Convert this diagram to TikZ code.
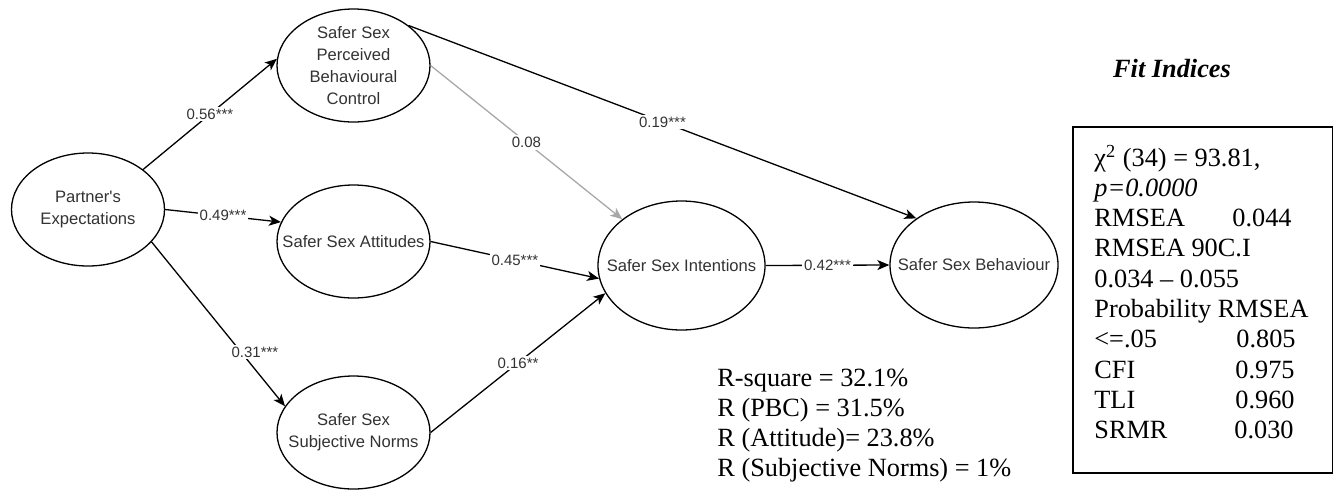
\documentclass[tikz,border=0pt]{standalone}
\usepackage{fontspec}
\setmainfont{Liberation Serif}
\setsansfont{Liberation Sans}
\usetikzlibrary{shapes.geometric,arrows.meta}
\definecolor{txt}{HTML}{333333}
\definecolor{lightedge}{HTML}{A8A8A8}
\tikzset{
  ell/.style={draw=black, line width=0.65pt, ellipse, inner sep=0pt, fill=white},
  small/.style={ell, minimum width=76.5pt, minimum height=56.5pt},
  big/.style={ell, minimum width=83.5pt, minimum height=64.5pt},
  ntext/.style={text=txt, font=\sffamily\fontsize{8.3}{11}\selectfont, align=center, inner sep=0pt},
  path/.style={line width=0.65pt, -{Stealth[length=6pt, width=5pt, inset=1.6pt]}},
  elab/.style={text=txt, font=\sffamily\fontsize{7.5}{9}\selectfont, fill=white, inner sep=1pt},
  serif/.style={font=\fontsize{13.15}{15.15}\selectfont, inner sep=0pt, text=black}
}
\begin{document}
\begin{tikzpicture}[x=0.5pt, y=-0.5pt]
\useasboundingbox (0,0) rectangle (1334,489);
\clip (0,0) rectangle (1334,489);

% latent variables
\node[small, label={[ntext]center:Partner\textquotesingle s\\Expectations}] (pe) at (88,209.5) {};
\node[small, label={[ntext]center:Safer Sex\\Perceived\\Behavioural\\Control}] (pbc) at (353.5,65.5) {};
\node[small, label={[ntext]center:Safer Sex Attitudes}] (att) at (353.5,241.5) {};
\node[small, label={[ntext]center:Safer Sex\\Subjective Norms}] (sn) at (353.5,432.5) {};
\node[big, label={[ntext]center:Safer Sex Intentions}] (int) at (681.5,265.5) {};
\node[ell, minimum width=84pt, minimum height=63pt, label={[ntext]center:Safer Sex Behaviour}] (beh) at (974,265) {};

% paths
\draw[path] (pe.36) -- node[elab, pos=0.5] {0.56***} (pbc.175);
\draw[path] (pe.east) -- node[elab, pos=0.5] {0.49***} (att.165);
\draw[path] (pe.-27) -- node[elab, pos=0.67, xshift=7pt] {0.31***} (sn.159);
\draw[path, draw=lightedge, -{Stealth[length=6pt, width=5pt, inset=1.6pt, fill=lightedge]}] (pbc.east) -- node[elab, pos=0.5] {0.08} (int.142);
\draw[path] (pbc.36) -- node[elab, pos=0.5] {0.19***} (beh.141.5);
\draw[path] (att.east) -- node[elab, pos=0.5] {0.45***} (int.189);
\draw[path] (sn.east) -- node[elab, pos=0.5] {0.16**} (int.200);
\draw[path] (int.east) -- node[elab, pos=0.5] {0.42***} (beh.west);

% R-square block
\node[serif, anchor=base west] (rsq) at (717,386) {\begin{tabular}[t]{@{}l@{}}
R-square = 32.1\%\\
R (PBC) = 31.5\%\\
R (Attitude)= 23.8\%\\
R (Subjective Norms) = 1\%
\end{tabular}};

% Fit indices
\node[serif, font=\fontsize{13.15}{15.15}\selectfont\bfseries\itshape] (fittitle) at (1172,68) {Fit Indices};
\draw[line width=0.75pt] (1073,127) rectangle (1332.5,473);
\node[serif, anchor=base west] (fit) at (1094,166) {\begin{tabular}[t]{@{}l@{}}
χ\textsuperscript{2} (34) = 93.81,\\
\textit{p=0.0000}\\
\makebox[69pt][l]{RMSEA}0.044\\
RMSEA 90C.I\\
0.034 – 0.055\\
Probability RMSEA\\
\makebox[71pt][l]{<=.05}0.805\\
\makebox[70.5pt][l]{CFI}0.975\\
\makebox[70.5pt][l]{TLI}0.960\\
\makebox[70pt][l]{SRMR}0.030
\end{tabular}};
\end{tikzpicture}
\end{document}
